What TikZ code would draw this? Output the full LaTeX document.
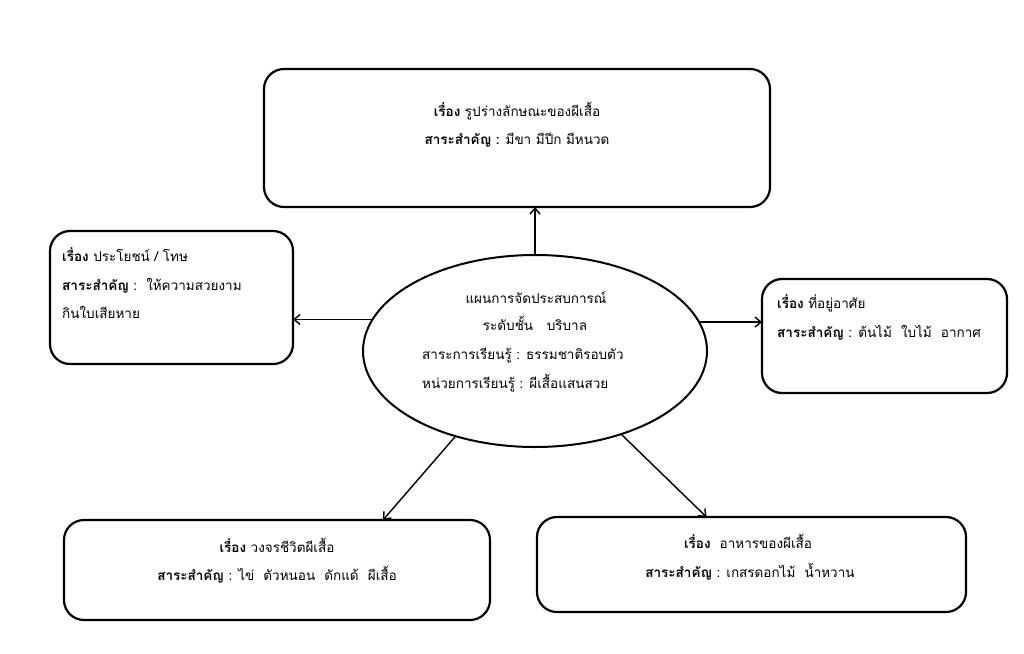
\documentclass[tikz,border=0pt]{standalone}
\usepackage{fontspec}
\setmainfont[Script=Thai]{Loma}
\usetikzlibrary{shapes.geometric,arrows.meta,calc}
\begin{document}
\begin{tikzpicture}[x=1pt,y=-1pt,
  box/.style={draw,line width=2.2pt,rounded corners=20pt,inner sep=0pt,outer sep=0pt},
  ell/.style={draw,ellipse,line width=2pt,inner sep=0pt,outer sep=0pt},
  txt/.style={inner sep=0pt,font=\fontsize{13.5}{16}\selectfont},
  arr/.style={line width=1.4pt,-{Straight Barb[length=6pt,width=10pt,line width=1.4pt]}}]
\useasboundingbox[fill=white] (0,0) rectangle (1024,653);
% boxes
\node[box,minimum width=506pt,minimum height=138pt] (top) at (517,138) {};
\node[box,minimum width=243pt,minimum height=133pt] (lft) at (171.5,297.5) {};
\node[box,minimum width=245pt,minimum height=114pt] (rgt) at (884.5,336) {};
\node[box,minimum width=426pt,minimum height=100pt] (bl) at (277,570) {};
\node[box,minimum width=429pt,minimum height=95pt] (br) at (751.5,564.5) {};
\node[ell,minimum width=344pt,minimum height=192pt] (ell) at (535,351) {};
% texts
\node[txt,anchor=base] (t1) at (517,116) {\textbf{เรื่อง} รูปร่างลักษณะของผีเสื้อ};
\node[txt,anchor=base] (t2) at (517,144) {\textbf{สาระสำคัญ :} มีขา มีปีก มีหนวด};
\node[txt,anchor=base west] (l1) at (62,261) {\textbf{เรื่อง} ประโยชน์ / โทษ};
\node[txt,anchor=base west] (l2) at (62,290) {\textbf{สาระสำคัญ} :\ \ ให้ความสวยงาม};
\node[txt,anchor=base west] (l3) at (62,318) {กินใบเสียหาย};
\node[txt,anchor=base west] (r1) at (777,308) {\textbf{เรื่อง} ที่อยู่อาศัย};
\node[txt,anchor=base west] (r2) at (777,337) {\textbf{สาระสำคัญ} : ต้นไม้\ \ ใบไม้\ \ อากาศ};
\node[txt,anchor=base] (e1) at (536,303) {แผนการจัดประสบการณ์};
\node[txt,anchor=base] (e2) at (535,330) {ระดับชั้น\ \ \ บริบาล};
\node[txt,anchor=base west] (e3) at (422,359) {สาระการเรียนรู้ : ธรรมชาติรอบตัว};
\node[txt,anchor=base west] (e4) at (422,388) {หน่วยการเรียนรู้ : ผีเสื้อแสนสวย};
\node[txt,anchor=base] (b1) at (277,552) {\textbf{เรื่อง} วงจรชีวิตผีเสื้อ};
\node[txt,anchor=base] (b2) at (277,580) {\textbf{สาระสำคัญ} : ไข่\ \ ตัวหนอน\ \ ดักแด้\ \ ผีเสื้อ};
\node[txt,anchor=base] (c1) at (748,548) {\textbf{เรื่อง}\ \ อาหารของผีเสื้อ};
\node[txt,anchor=base] (c2) at (750,577) {\textbf{สาระสำคัญ} : เกสรดอกไม้\ \ น้ำหวาน};
% connectors
\draw[arr] (ell.north) -- (ell.north |- top.south);
\draw[arr] (ell.169.6) -- (ell.169.6 -| lft.east);
\draw[arr] (ell.10.4) -- (ell.10.4 -| rgt.west);
\draw[arr] (ell.227.3) -- ($(bl.north)+(106,0)$);
\draw[arr] (ell.316.6) -- ($(br.north)+(-45,0)$);
\end{tikzpicture}
\end{document}
